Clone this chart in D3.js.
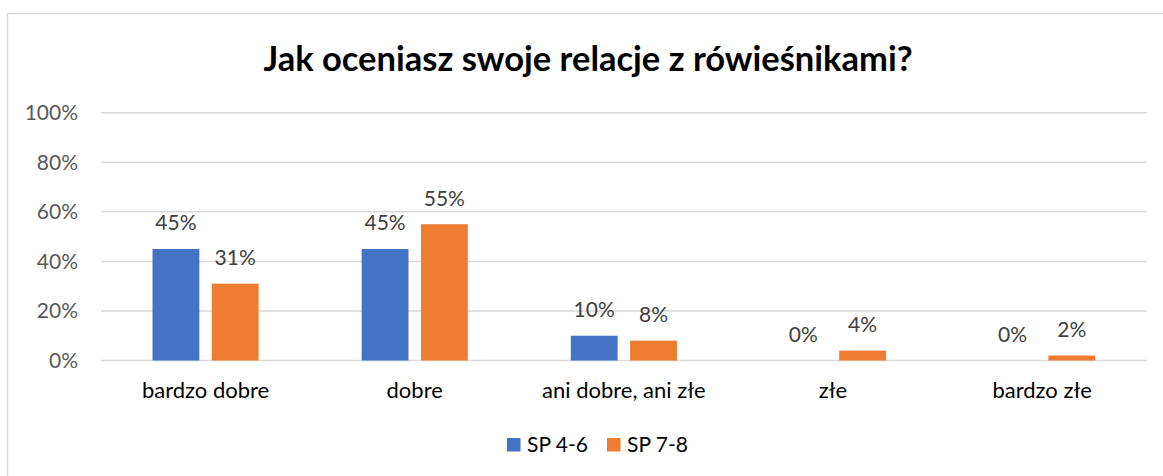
<!DOCTYPE html>
<html>
<head>
<meta charset="utf-8">
<script src="https://cdn.jsdelivr.net/npm/d3@7"></script>
<style>
  html, body { margin: 0; padding: 0; background: #fff; }
  svg { display: block; font-family: Lato, "Open Sans", sans-serif; }
</style>
</head>
<body>
<svg id="chart" width="1163" height="476"></svg>
<script>
// Data
const categories = ["bardzo dobre", "dobre", "ani dobre, ani złe", "złe", "bardzo złe"];
const seriesNames = ["SP 4-6", "SP 7-8"];
const sp46 = [0.45, 0.45, 0.10, 0.00, 0.00];
const sp78 = [0.31, 0.55, 0.08, 0.04, 0.02];
const yTicks = [0, 0.2, 0.4, 0.6, 0.8, 1.0];
const title = "Jak oceniasz swoje relacje z rówieśnikami?";

const COLORS = { "SP 4-6": "#4472C4", "SP 7-8": "#ED7D31" };

const DIM = { left: 101, right: 1146.7, top: 112.7, bottom: 360.5 };

const svg = d3.select("#chart");

// chart frame
svg.append("rect")
  .attr("x", 7.5).attr("y", 13.5)
  .attr("width", 1170).attr("height", 480)
  .attr("fill", "none")
  .attr("stroke", "#d9d9d9")
  .attr("stroke-width", 1.5);

// title
svg.append("text")
  .attr("x", 588).attr("y", 71)
  .attr("text-anchor", "middle")
  .attr("font-size", "34.5px")
  .attr("font-weight", "bold")
  .attr("fill", "#000")
  .text(title);

const x = d3.scaleBand()
  .domain(categories)
  .range([DIM.left, DIM.right])
  .padding(0);

const y = d3.scaleLinear()
  .domain([0, 1])
  .range([DIM.bottom, DIM.top]);

// gridlines
svg.append("g")
  .selectAll("line")
  .data(yTicks)
  .join("line")
  .attr("x1", DIM.left).attr("x2", DIM.right)
  .attr("y1", d => y(d)).attr("y2", d => y(d))
  .attr("stroke", "#d9d9d9")
  .attr("stroke-width", 1.5);

// y tick labels
svg.append("g")
  .selectAll("text")
  .data(yTicks)
  .join("text")
  .attr("x", 78)
  .attr("y", d => y(d) + 7.5)
  .attr("text-anchor", "end")
  .attr("font-size", "21px")
  .attr("fill", "#595959")
  .text(d => d3.format(".0%")(d));

// bars
const rows = categories.map((c, i) => ({ cat: c, values: [
  { series: seriesNames[0], value: sp46[i] },
  { series: seriesNames[1], value: sp78[i] }
]}));

const groups = svg.append("g")
  .selectAll("g")
  .data(rows)
  .join("g")
  .attr("transform", d => `translate(${x(d.cat)},0)`);

const inner = d3.scaleBand()
  .domain(seriesNames)
  .range([51.5, x.bandwidth() - 51.5])
  .paddingInner(0.21);

groups.selectAll("rect")
  .data(d => d.values)
  .join("rect")
  .attr("x", d => inner(d.series))
  .attr("y", d => y(d.value))
  .attr("width", inner.bandwidth())
  .attr("height", d => y(0) - y(d.value))
  .attr("fill", d => COLORS[d.series]);

groups.selectAll(".value-label")
  .data(d => d.values)
  .join("text")
  .attr("class", "value-label")
  .attr("x", d => inner(d.series) + inner.bandwidth() / 2)
  .attr("y", d => y(d.value) - 18.5)
  .attr("text-anchor", "middle")
  .attr("font-size", "21px")
  .attr("fill", "#404040")
  .text(d => d3.format(".0%")(d.value));

// category labels
svg.append("g")
  .selectAll("text")
  .data(categories)
  .join("text")
  .attr("x", d => x(d) + x.bandwidth() / 2)
  .attr("y", 398)
  .attr("text-anchor", "middle")
  .attr("font-size", "22px")
  .attr("fill", "#000")
  .text(d => d);

// legend
const legendX = [507, 607];
const legend = svg.append("g")
  .selectAll("g")
  .data(seriesNames)
  .join("g")
  .attr("transform", (d, i) => `translate(${legendX[i]},438)`);

legend.append("rect")
  .attr("width", 13.5).attr("height", 13.5)
  .attr("fill", d => COLORS[d]);

legend.append("text")
  .attr("x", 20).attr("y", 14)
  .attr("font-size", "21px")
  .attr("fill", "#000")
  .text(d => d);
</script>
</body>
</html>
